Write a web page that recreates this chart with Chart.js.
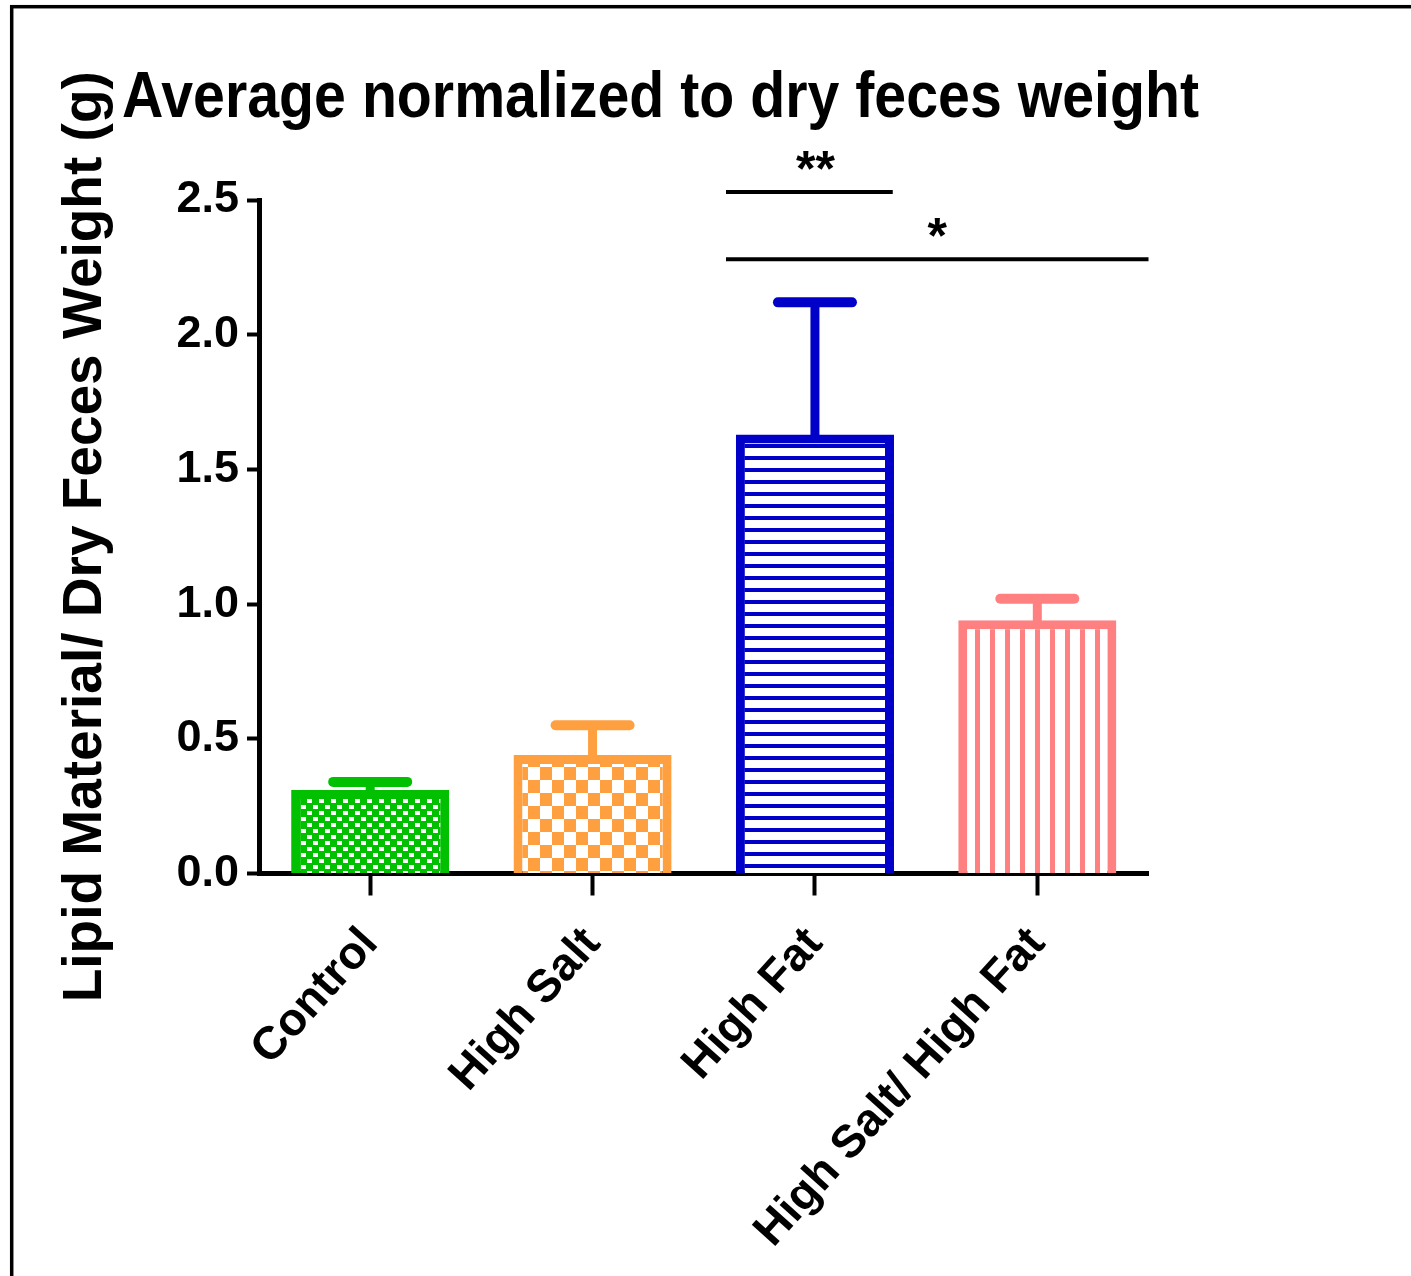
<!DOCTYPE html>
<html>
<head>
<meta charset="utf-8">
<script src="https://cdn.jsdelivr.net/npm/chart.js@4/dist/chart.umd.min.js"></script>
<style>
  html, body { margin: 0; padding: 0; background: #fff; }
  canvas { display: block; }
</style>
</head>
<body>
<canvas id="c" width="1411" height="1276"></canvas>
<script>
// Group names, bar means and SEM (g lipid per g dry feces)
const categories = ['Control', 'High Salt', 'High Fat', 'High Salt/ High Fat'];
const means = [0.31, 0.44, 1.63, 0.94];
const sem = [0.03, 0.11, 0.49, 0.08];
const yTicks = [0, 0.5, 1.0, 1.5, 2.0, 2.5];
const barColors = ['#00C000', '#FFA040', '#0000C8', '#FF8080'];

// Significance brackets: category positions they span, height in data units, label
const sigFrom = [1.6, 1.6];
const sigTo = [2.35, 3.5];
const sigLevel = [2.53, 2.28];
const sigLabels = ['**', '*'];

const titleText = 'Average normalized to dry feces weight';
const yTitleText = 'Lipid Material/ Dry Feces Weight (g)';

const FONT = '"Liberation Sans", Arial, sans-serif';

// ---- fill patterns for the four groups ----
function makeTile(w, h, draw) {
  const c = document.createElement('canvas');
  c.width = w; c.height = h;
  const g = c.getContext('2d');
  draw(g);
  return document.getElementById('c').getContext('2d').createPattern(c, 'repeat');
}
const patterns = [
  // staggered white dots on green
  makeTile(12, 12, g => {
    g.fillStyle = barColors[0]; g.fillRect(0, 0, 12, 12);
    g.fillStyle = '#fff';
    g.fillRect(1, 1, 5, 4);
    g.fillRect(7, 7, 5, 4);
  }),
  // checkerboard
  makeTile(24, 26, g => {
    g.fillStyle = '#fff'; g.fillRect(0, 0, 24, 26);
    g.fillStyle = barColors[1];
    g.fillRect(0, 0, 12, 13);
    g.fillRect(12, 13, 12, 13);
  }),
  // horizontal lines
  makeTile(12, 12, g => {
    g.fillStyle = '#fff'; g.fillRect(0, 0, 12, 12);
    g.fillStyle = barColors[2]; g.fillRect(0, 0, 12, 4);
  }),
  // vertical lines
  makeTile(15, 12, g => {
    g.fillStyle = '#fff'; g.fillRect(0, 0, 15, 12);
    g.fillStyle = barColors[3]; g.fillRect(0, 0, 5, 12);
  })
];

// white page with a black frame
const framePlugin = {
  id: 'frame',
  beforeDraw(chart) {
    const ctx = chart.ctx;
    ctx.save();
    ctx.fillStyle = '#fff';
    ctx.fillRect(0, 0, chart.width, chart.height);
    ctx.strokeStyle = '#000';
    ctx.lineWidth = 3.5;
    ctx.strokeRect(11.7, 6.7, 1600, 1600);
    ctx.restore();
  }
};

// heading, slightly tall letterforms
const headingPlugin = {
  id: 'heading',
  afterDraw(chart) {
    const ctx = chart.ctx;
    ctx.save();
    ctx.translate(122, 117);
    ctx.scale(1.005, 1.15);
    ctx.font = 'bold 57px ' + FONT;
    ctx.fillStyle = '#000';
    ctx.textBaseline = 'alphabetic';
    ctx.textAlign = 'left';
    ctx.fillText(titleText, 0, 0);
    ctx.restore();
  }
};

// SEM error bars (upper only)
const errorBarPlugin = {
  id: 'errorBars',
  afterDatasetsDraw(chart) {
    const ctx = chart.ctx;
    const ys = chart.scales.y;
    const meta = chart.getDatasetMeta(0);
    ctx.save();
    meta.data.forEach((bar, i) => {
      const x = bar.x;
      const yTop = ys.getPixelForValue(means[i]);
      const yErr = ys.getPixelForValue(means[i] + sem[i]);
      ctx.strokeStyle = barColors[i];
      ctx.lineCap = 'butt';
      ctx.lineWidth = 9;
      ctx.beginPath();
      ctx.moveTo(x, yTop + 4);
      ctx.lineTo(x, yErr);
      ctx.stroke();
      ctx.lineCap = 'round';
      ctx.lineWidth = 10;
      ctx.beginPath();
      ctx.moveTo(x - 37, yErr);
      ctx.lineTo(x + 37, yErr);
      ctx.stroke();
    });
    ctx.restore();
  }
};

// significance brackets
const sigPlugin = {
  id: 'significance',
  afterDraw(chart) {
    const ctx = chart.ctx;
    const xs = chart.scales.x, ys = chart.scales.y;
    ctx.save();
    ctx.strokeStyle = '#000';
    ctx.fillStyle = '#000';
    ctx.lineWidth = 4;
    ctx.font = 'bold 50px ' + FONT;
    ctx.textAlign = 'center';
    ctx.textBaseline = 'alphabetic';
    sigLabels.forEach((lab, i) => {
      const x1 = xs.getPixelForValue(sigFrom[i]);
      const x2 = xs.getPixelForValue(sigTo[i]);
      const y = ys.getPixelForValue(sigLevel[i]);
      ctx.beginPath();
      ctx.moveTo(x1, y);
      ctx.lineTo(x2, y);
      ctx.stroke();
      ctx.fillText(lab, (x1 + x2) / 2 + (i === 0 ? 6 : 0), y - 6);
    });
    ctx.restore();
  }
};

new Chart(document.getElementById('c'), {
  type: 'bar',
  data: {
    labels: categories,
    datasets: [{
      data: means,
      backgroundColor: patterns,
      borderColor: barColors,
      borderWidth: 9,
      borderSkipped: 'start',
      barPercentage: 0.711,
      categoryPercentage: 1.0
    }]
  },
  options: {
    responsive: false,
    animation: false,
    events: [],
    layout: { padding: { left: 20, right: 262.5, top: 200, bottom: 0 } },
    plugins: {
      legend: { display: false },
      tooltip: { enabled: false },
      title: { display: false }
    },
    scales: {
      x: {
        offset: true,
        z: 1,
        grid: { offset: false, drawOnChartArea: false, drawTicks: true, tickLength: 22, tickWidth: 4, tickColor: '#000' },
        border: { color: '#000', width: 5 },
        ticks: {
          minRotation: 48, maxRotation: 48,
          color: '#000', padding: 22,
          font: { family: FONT, size: 46, weight: 'bold' }
        },
        afterFit(s) { s.height = 1276 - 873.5; }
      },
      y: {
        min: 0, max: 2.5,
        z: 1,
        afterBuildTicks(s) { s.ticks = yTicks.map(v => ({ value: v })); },
        grid: { drawOnChartArea: false, drawTicks: true, tickLength: 12, tickWidth: 4, tickColor: '#000' },
        border: { color: '#000', width: 5 },
        ticks: {
          color: '#000', padding: 8,
          font: { family: FONT, size: 45, weight: 'bold' },
          callback: v => Number(v).toFixed(1)
        },
        title: {
          display: true, text: yTitleText, color: '#000',
          font: { family: FONT, size: 55, weight: 'bold' },
          padding: { top: 33, bottom: 0 }
        },
        afterFit(s) { s.width = 239; }
      }
    }
  },
  plugins: [framePlugin, headingPlugin, errorBarPlugin, sigPlugin]
});
</script>
</body>
</html>
